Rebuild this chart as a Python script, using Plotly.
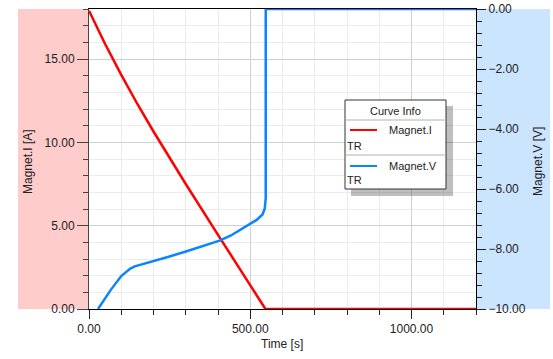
import plotly.graph_objects as go

# ---- data ----
time_i = [0, 50, 100, 150, 200, 300, 400, 500, 547, 1200]
magnet_i = [17.9, 15.9, 14.05, 12.3, 10.65, 7.5, 4.45, 1.45, 0.0, 0.0]

time_v = [28, 67, 100, 115, 128, 142, 170, 247, 298, 350, 405, 440, 478, 520, 538, 545, 548, 548, 1200]
magnet_v = [-10.0, -9.37, -8.9, -8.75, -8.65, -8.58, -8.5, -8.26, -8.09, -7.92, -7.72, -7.55, -7.31,
            -7.03, -6.85, -6.65, -6.3, 0.0, 0.0]

x_ticks = [0, 500, 1000]
x_labels = ["0.00", "500.00", "1000.00"]

W, H = 553, 359
L, R, T, B = 89, 77, 9, 50
PW, PH = W - L - R, H - T - B


def px(x):
    return (x - L) / PW


def py(y):
    return (H - B - y) / PH


FONT = "Liberation Sans, Arial, sans-serif"
RED = "#ff0000"
BLUE = "#0a84ff"

fig = go.Figure()
fig.add_trace(go.Scatter(x=time_v, y=magnet_v, mode="lines", yaxis="y2",
                         line=dict(color=BLUE, width=2.5), cliponaxis=False, name="Magnet.V"))
fig.add_trace(go.Scatter(x=time_i, y=magnet_i, mode="lines",
                         line=dict(color=RED, width=2.5), cliponaxis=False, name="Magnet.I"))

shapes = [
    dict(type="rect", xref="paper", yref="paper", x0=px(18), x1=0, y0=0, y1=1,
         fillcolor="#ffcccc", line_width=0, layer="below"),
    dict(type="rect", xref="paper", yref="paper", x0=1, x1=px(550), y0=0, y1=1,
         fillcolor="#cce5ff", line_width=0, layer="below"),
    # legend shadow and box
    dict(type="rect", xref="paper", yref="paper", x0=px(351), x1=px(453), y0=py(196), y1=py(106),
         fillcolor="rgba(0,0,0,0.25)", line_width=0),
    dict(type="rect", xref="paper", yref="paper", x0=px(345), x1=px(446), y0=py(189), y1=py(100),
         fillcolor="white", line=dict(color="#333333", width=1)),
    dict(type="line", xref="paper", yref="paper", x0=px(345), x1=px(446), y0=py(120), y1=py(120),
         line=dict(color="#b0b0b0", width=1)),
    dict(type="line", xref="paper", yref="paper", x0=px(345), x1=px(446), y0=py(155), y1=py(155),
         line=dict(color="#b0b0b0", width=1)),
    dict(type="line", xref="paper", yref="paper", x0=px(350), x1=px(377), y0=py(130), y1=py(130),
         line=dict(color=RED, width=2)),
    dict(type="line", xref="paper", yref="paper", x0=px(350), x1=px(377), y0=py(166), y1=py(166),
         line=dict(color=BLUE, width=2)),
]

ann_font = dict(family=FONT, size=11, color="#222222")


def ann(text, x, y, xanchor="center", angle=0, font=ann_font):
    return dict(text=text, x=px(x), y=py(y), xref="paper", yref="paper", xanchor=xanchor,
                yanchor="middle", textangle=angle, showarrow=False, font=font)


title_font = dict(family=FONT, size=12, color="#222222")
annotations = [
    ann("Magnet.I [A]", 28, 162, angle=-90, font=title_font),
    ann("Magnet.V [V]", 538, 162, angle=-90, font=title_font),
    ann("Time [s]", 282, 344, font=title_font),
    ann("Curve Info", 395.5, 111),
    ann("Magnet.I", 387, 130, xanchor="left"),
    ann("TR", 345, 146, xanchor="left"),
    ann("Magnet.V", 387, 166, xanchor="left"),
    ann("TR", 345, 180, xanchor="left"),
]

tickfont = dict(family=FONT, size=12, color="#222222")

fig.update_layout(
    width=W, height=H,
    margin=dict(l=L, r=R, t=T, b=B, pad=0, autoexpand=False),
    paper_bgcolor="white", plot_bgcolor="white",
    showlegend=False,
    shapes=shapes, annotations=annotations,
    xaxis=dict(range=[0, 1200], tickvals=x_ticks, ticktext=x_labels, ticks="outside", ticklen=9,
               tickcolor="#222222", showline=True, linecolor="black", linewidth=1, mirror=True,
               showgrid=True, gridcolor="#d0d0d0", gridwidth=1, zeroline=False,
               minor=dict(dtick=100, ticks="outside", ticklen=5, tickcolor="#222222",
                          showgrid=True, gridcolor="#ececec"),
               tickfont=tickfont, layer="below traces", automargin=False),
    yaxis=dict(range=[0, 18], dtick=5, tick0=0, tickformat=".2f", ticks="outside", ticklen=11,
               tickcolor="#444444", showline=True, linecolor="#444444", linewidth=1,
               showgrid=True, gridcolor="#d0d0d0", zeroline=False,
               minor=dict(dtick=1, ticks="outside", ticklen=5, tickcolor="#444444",
                          showgrid=True, gridcolor="#ececec"),
               tickfont=tickfont, layer="below traces", automargin=False),
    yaxis2=dict(range=[-10, 0], dtick=2, tick0=0, tickformat=".2f", overlaying="y", side="right",
                ticks="outside", ticklen=9, tickcolor="#222222", showline=True, linecolor="black",
                linewidth=1, showgrid=False, zeroline=False,
                minor=dict(dtick=0.4, ticks="outside", ticklen=5, tickcolor="#222222"),
                tickfont=tickfont, layer="below traces", automargin=False),
)

fig.write_html("out.html", config={"displayModeBar": False},
               post_script="document.body.style.margin='0';document.body.style.overflow='hidden';")
